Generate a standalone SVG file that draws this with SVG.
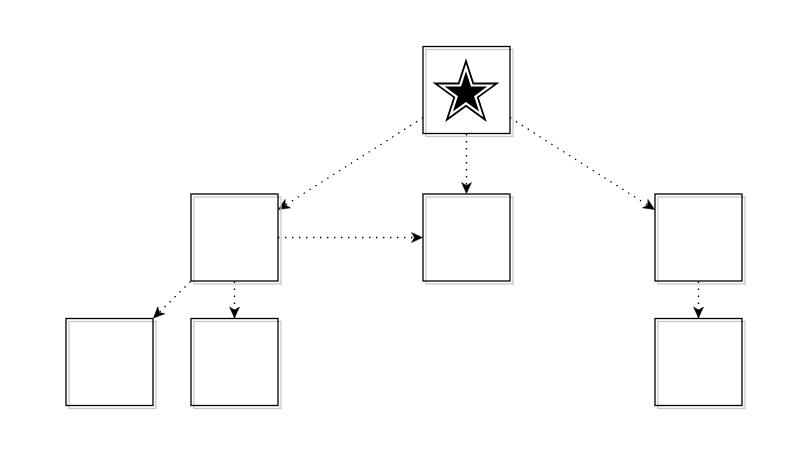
<svg xmlns="http://www.w3.org/2000/svg" width="802" height="464" viewBox="0 0 802 464">
  <style>
    .shadow { fill: none; stroke: #c8c8c8; stroke-width: 1.3; }
    .box { fill: none; stroke: #000000; stroke-width: 1.3; }
    .edge { fill: none; stroke: #000000; stroke-width: 1.4; stroke-dasharray: 1.4 5.6; }
  </style>
  <defs>
    <marker id="arrow" markerUnits="userSpaceOnUse" markerWidth="14" markerHeight="14" viewBox="-12 -7 13 14" refX="0" refY="0" orient="auto">
      <path d="M0,0 L-11,-5 L-8,0 L-11,5 Z" fill="#000000" stroke="#000000" stroke-width="0.5"/>
    </marker>
    <path id="starShape" d="M466,71.2 L471.01,86.61 L487.21,86.61 L474.1,96.13 L479.11,111.54 L466,102.02 L452.89,111.54 L457.9,96.13 L444.79,86.61 L460.99,86.61 Z"/>
  </defs>
  <rect width="802" height="464" fill="#ffffff"/>

  <g id="connectors">
    <line class="edge" x1="423" y1="117.7" x2="278.5" y2="209.5" marker-end="url(#arrow)"/>
    <line class="edge" x1="510" y1="117.7" x2="654.5" y2="209.5" marker-end="url(#arrow)"/>
    <line class="edge" x1="466.5" y1="134" x2="466.5" y2="193.5" marker-end="url(#arrow)"/>
    <line class="edge" x1="278" y1="237.5" x2="422.5" y2="237.5" marker-end="url(#arrow)"/>
    <line class="edge" x1="190.5" y1="281.5" x2="153.5" y2="318" marker-end="url(#arrow)"/>
    <line class="edge" x1="234.5" y1="281.5" x2="234.5" y2="318" marker-end="url(#arrow)"/>
    <line class="edge" x1="698.5" y1="281.5" x2="698.5" y2="318" marker-end="url(#arrow)"/>
  </g>

  <g id="node-star">
    <rect class="shadow" x="426" y="49.5" width="87" height="87"/>
    <rect class="box" x="423" y="46.5" width="87" height="87"/>
    <use href="#starShape" fill="none" stroke="#000000" stroke-width="8" stroke-miterlimit="10"/>
    <use href="#starShape" fill="none" stroke="#ffffff" stroke-width="4.4" stroke-miterlimit="10"/>
    <use href="#starShape" fill="#000000" stroke="none"/>
  </g>
  <g id="node-mid-left">
    <rect class="shadow" x="194" y="197" width="87" height="87"/>
    <rect class="box" x="191" y="194" width="87" height="87"/>
  </g>
  <g id="node-mid-center">
    <rect class="shadow" x="426" y="197" width="87" height="87"/>
    <rect class="box" x="423" y="194" width="87" height="87"/>
  </g>
  <g id="node-mid-right">
    <rect class="shadow" x="658" y="197" width="87" height="87"/>
    <rect class="box" x="655" y="194" width="87" height="87"/>
  </g>
  <g id="node-bottom-left">
    <rect class="shadow" x="69" y="321.5" width="87" height="87"/>
    <rect class="box" x="66" y="318.5" width="87" height="87"/>
  </g>
  <g id="node-bottom-mid">
    <rect class="shadow" x="194" y="321.5" width="87" height="87"/>
    <rect class="box" x="191" y="318.5" width="87" height="87"/>
  </g>
  <g id="node-bottom-right">
    <rect class="shadow" x="658" y="321.5" width="87" height="87"/>
    <rect class="box" x="655" y="318.5" width="87" height="87"/>
  </g>
</svg>
